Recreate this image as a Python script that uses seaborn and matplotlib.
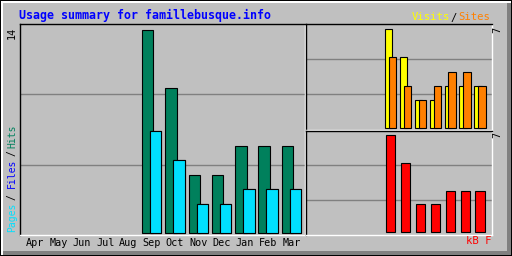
import numpy as np
import pandas as pd
import matplotlib
matplotlib.use("Agg")
import matplotlib.pyplot as plt
import seaborn as sns
from matplotlib.patches import Rectangle

# ---------------- data ----------------
months = ["Apr", "May", "Jun", "Jul", "Aug", "Sep", "Oct", "Nov", "Dec", "Jan", "Feb", "Mar"]
hits = [0, 0, 0, 0, 0, 14, 10, 4, 4, 6, 6, 6]
files = [0, 0, 0, 0, 0, 7, 5, 2, 2, 3, 3, 3]
pages = [0, 0, 0, 0, 0, 7, 5, 2, 2, 3, 3, 3]
visits = [0, 0, 0, 0, 0, 7, 5, 2, 2, 3, 3, 3]
sites = [0, 0, 0, 0, 0, 5, 3, 2, 3, 4, 4, 3]
kbytes = [0, 0, 0, 0, 0, 7, 5, 2, 2, 3, 3, 3]
left_max_label = "14"
right_max_label = "7"
title = "Usage summary for famillebusque.info"

# ---------------- style ----------------
BG = "#C0C0C0"
C_HITS = "#00805C"
C_FILES = "#0000FF"
C_PAGES = "#00E0FF"
C_VISITS = "#FFFF00"
C_SITES = "#FF8000"
C_KB = "#FF0000"
GRID = "#808080"

sns.set_theme(style="white")
plt.rcParams["font.family"] = ["DejaVu Sans Mono", "DejaVu Sans"]

W, H = 512, 256
fig = plt.figure(figsize=(5.12, 2.56), dpi=100, facecolor=BG)


def fx(x):
    return x / W


def fy(y):
    return 1 - y / H


def add_axes(x0, y0, x1, y1):
    ax = fig.add_axes([fx(x0), fy(y1), fx(x1) - fx(x0), fy(y0) - fy(y1)])
    ax.set_facecolor(BG)
    for s in ("top", "left"):
        ax.spines[s].set_color("black")
        ax.spines[s].set_linewidth(1.0)
    for s in ("bottom", "right"):
        ax.spines[s].set_color("white")
        ax.spines[s].set_linewidth(1.0)
    return ax


def frect(x0, y0, x1, y1, color):
    fig.patches.append(Rectangle((fx(x0), fy(y1)), fx(x1) - fx(x0), fy(y0) - fy(y1),
                                 transform=fig.transFigure, facecolor=color,
                                 edgecolor="none", zorder=-10))


# bevelled frame
frect(0, 0, 512, 256, "black")
frect(1, 1, 511, 255, "white")
frect(3, 3, 511, 255, "#808080")
frect(3, 3, 507, 251, BG)


def bars(ax, vals, color, offset, width, z):
    df = pd.DataFrame({"month": months, "v": vals})
    n0 = len(ax.patches)
    sns.barplot(data=df, x="month", y="v", order=months, color=color, width=width,
                edgecolor="black", linewidth=0.8, saturation=1, errorbar=None,
                ax=ax, zorder=z)
    for p in ax.patches[n0:]:
        p.set_x(p.get_x() + offset)
        if p.get_height() <= 0:
            p.set_visible(False)


def grid(ax):
    for f in (1 / 3, 2 / 3):
        ax.plot([0, 1], [f, f], transform=ax.transAxes, color=GRID, lw=1.0, zorder=0.5)


# ---------------- left panel: hits / files / pages ----------------
axL = add_axes(20, 24, 304.5, 235)
grid(axL)
bars(axL, hits, C_HITS, -0.171, 0.49, 2)
bars(axL, files, C_FILES, 0.171, 0.49, 3)
bars(axL, pages, C_PAGES, 0.171, 0.49, 4)
axL.set_xlim(-0.656, 11.56)
axL.set_ylim(-0.17, 14.38)
axL.set_xlabel("")
axL.set_ylabel("")
axL.set_yticks([])
axL.set_xticks(range(len(months)))
axL.set_xticklabels(months)
axL.tick_params(axis="x", length=0, pad=2.5, labelsize=7.3, colors="black")

# ---------------- right top: visits / sites ----------------
axT = add_axes(305.5, 24, 492, 129.5)
grid(axT)
bars(axT, visits, C_VISITS, -0.13, 0.5, 2)
bars(axT, sites, C_SITES, 0.13, 0.5, 3)
axT.set_xlim(-0.7, 11.8)
axT.set_ylim(-0.12, 7.38)
axT.set_xlabel("")
axT.set_ylabel("")
axT.set_xticks([])
axT.set_yticks([])

# ---------------- right bottom: kbytes ----------------
axB = add_axes(305.5, 130.5, 492, 235)
grid(axB)
bars(axB, kbytes, C_KB, 0.0, 0.62, 2)
axB.set_xlim(-0.7, 11.8)
axB.set_ylim(-0.19, 7.31)
axB.set_xlabel("")
axB.set_ylabel("")
axB.set_xticks([])
axB.set_yticks([])

# ---------------- texts ----------------
fig.text(fx(19), fy(15), title, color="#0000FF", fontsize=8.4, fontweight="bold",
         ha="left", va="center")

fig.text(fx(411.5), fy(17.5), "Visits", color=C_VISITS, fontsize=7.6, ha="left", va="center")
fig.text(fx(454), fy(17.5), "/", color="black", fontsize=7.6, ha="center", va="center")
fig.text(fx(490.5), fy(17.5), "Sites", color=C_SITES, fontsize=7.6, ha="right", va="center")

fig.text(fx(12), fy(26.5), left_max_label, color="black", fontsize=7.3, rotation=90,
         ha="center", va="top")
fig.text(fx(497.5), fy(26.5), right_max_label, color="black", fontsize=7.3, rotation=90,
         ha="center", va="top")
fig.text(fx(497.5), fy(131.5), right_max_label, color="black", fontsize=7.3, rotation=90,
         ha="center", va="top")

vx = fx(12)
fig.text(vx, fy(232.5), "Pages", color=C_PAGES, fontsize=7.0, rotation=90, ha="center", va="bottom")
fig.text(vx, fy(197), "/", color="black", fontsize=7.0, rotation=90, ha="center", va="center")
fig.text(vx, fy(188.5), "Files", color=C_FILES, fontsize=7.0, rotation=90, ha="center", va="bottom")
fig.text(vx, fy(153.5), "/", color="black", fontsize=7.0, rotation=90, ha="center", va="center")
fig.text(vx, fy(148.5), "Hits", color=C_HITS, fontsize=7.0, rotation=90, ha="center", va="bottom")

fig.text(fx(491), fy(241.5), "kB F", color=C_KB, fontsize=7.6, ha="right", va="center")

fig.savefig("out.png", dpi=100, facecolor=BG)
